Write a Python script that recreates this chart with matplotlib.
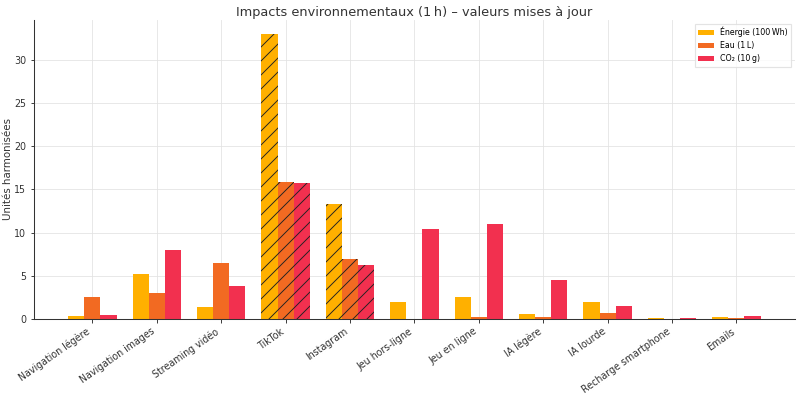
import numpy as np
import matplotlib
matplotlib.use("Agg")
import matplotlib.pyplot as plt

categories = ["Navigation légère", "Navigation images", "Streaming vidéo", "TikTok",
              "Instagram", "Jeu hors-ligne", "Jeu en ligne", "IA légère", "IA lourde",
              "Recharge smartphone", "Emails"]
energie = [0.3, 5.2, 1.35, 33.0, 13.25, 1.95, 2.5, 0.6, 2.0, 0.1, 0.2]
eau = [2.5, 2.95, 6.45, 15.9, 6.95, 0.0, 0.15, 0.25, 0.65, 0.02, 0.05]
co2 = [0.4, 7.95, 3.85, 15.75, 6.2, 10.45, 10.95, 4.5, 1.5, 0.08, 0.35]
series_labels = ["Énergie (100\u2009Wh)", "Eau (1\u2009L)", "CO₂ (10\u2009g)"]
hatched = ["TikTok", "Instagram"]

colors = ["#FFB000", "#F26A22", "#F2304F"]

plt.rcParams['font.family'] = ['DejaVu Sans']
plt.rcParams['hatch.color'] = '#222222'
plt.rcParams['hatch.linewidth'] = 0.8

DPI = 84
fig, ax = plt.subplots(figsize=(800 / DPI, 397 / DPI), dpi=DPI)
x = np.arange(len(categories))
w = 0.25
for i, (vals, lab, c) in enumerate(zip([energie, eau, co2], series_labels, colors)):
    bars = ax.bar(x + (i - 1) * w, vals, w, label=lab, color=c, linewidth=0)
    for b, cat in zip(bars, categories):
        if cat in hatched:
            b.set_hatch("//")

ax.set_xticks(x)
ax.set_xticklabels(categories, rotation=35, ha="right", fontsize=8.2, color="#333333")
ax.tick_params(axis="y", labelsize=8.2, colors="#333333", length=3)
ax.tick_params(axis="x", length=3, colors="#333333")
ax.set_ylabel("Unités harmonisées", fontsize=8.8, color="#333333", labelpad=1)
ax.set_title("Impacts environnementaux (1\u2009h) – valeurs mises à jour", fontsize=11,
             color="#333333", pad=3.5)
ax.grid(True, color="#e3e3e3", linewidth=0.7)
ax.set_axisbelow(True)
for s in ["top", "right"]:
    ax.spines[s].set_visible(False)
for s in ["left", "bottom"]:
    ax.spines[s].set_color("#333333")
    ax.spines[s].set_linewidth(0.9)
leg = ax.legend(fontsize=6.8, loc="upper right", frameon=True, edgecolor="#dddddd", fancybox=False)
fig.subplots_adjust(left=0.042, right=0.994, top=0.95, bottom=0.197)
fig.savefig("out.png", dpi=DPI)
